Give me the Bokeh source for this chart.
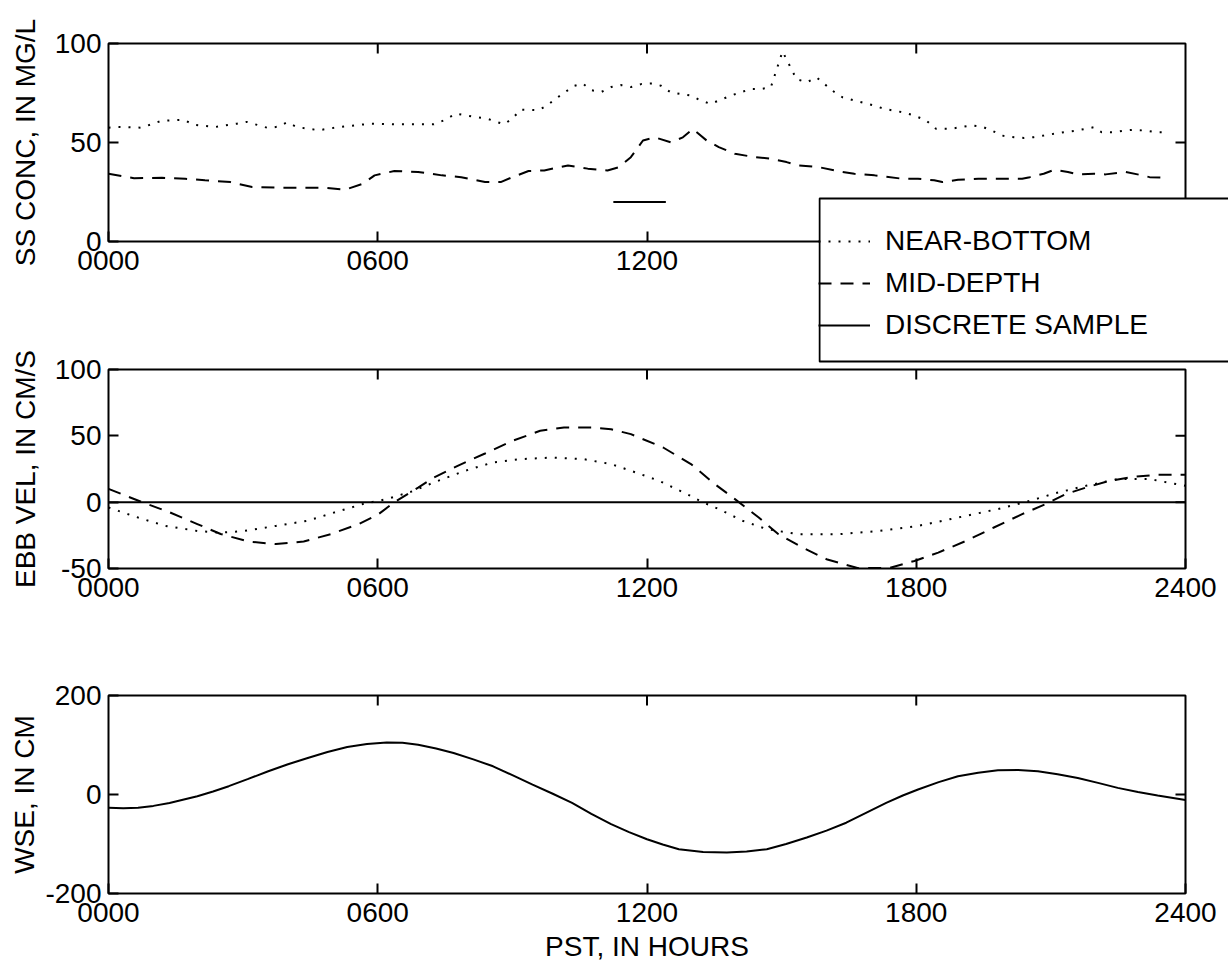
import math
from bokeh.plotting import figure
from bokeh.models import Range1d, FixedTicker, Legend, LegendItem, Span, BoxAnnotation
from bokeh.layouts import column, row
from bokeh.embed import file_html
from bokeh.resources import INLINE

FONT = "Liberation Sans"
FS = "28px"

# ---------------- data ----------------
hours_range = (0, 24)
x_ticks = [0, 6, 12, 18, 24]
x_tick_labels = ["0000", "0600", "1200", "1800", "2400"]
# in the top panel the 1800 / 2400 labels are hidden under the legend box
top_x_ticks = [0, 6, 12]
top_x_tick_labels = ["0000", "0600", "1200"]

ss_range = (0, 100)
ss_ticks = [0, 50, 100]
ss_tick_labels = ["0", "50", "100"]
vel_range = (-50, 100)
vel_ticks = [-50, 0, 50, 100]
vel_tick_labels = ["-50", "0", "50", "100"]
wse_range = (-200, 200)
wse_ticks = [-200, 0, 200]
wse_tick_labels = ["-200", "0", "200"]

legend_labels = ["NEAR-BOTTOM", "MID-DEPTH", "DISCRETE SAMPLE"]

# Panel 1: suspended-sediment concentration (mg/L)
ss_nb_hours = [0.0, 0.22, 0.73, 1.19, 1.67, 1.9, 2.37, 2.86, 3.08, 3.56, 3.78, 3.98, 4.2, 4.68,
               5.14, 5.84, 6.37, 7.25, 7.51, 7.73, 8.17, 8.44, 8.81, 9.0, 9.18, 9.58, 9.78, 9.97,
               10.15, 10.37, 10.57, 10.76, 10.98, 11.2, 11.42, 11.64, 11.87, 12.09, 12.31, 12.53,
               12.76, 12.98, 13.2, 13.42, 13.6, 13.87, 14.09, 14.31, 14.53, 14.76, 15.02, 15.33,
               15.56, 15.78, 16.13, 16.36, 16.62, 17.07, 17.29, 17.69, 17.96, 18.22, 18.44, 18.76,
               18.98, 19.24, 19.47, 19.69, 19.91, 20.18, 20.4, 20.62, 20.84, 21.07, 21.29, 21.56,
               21.78, 21.96, 22.13, 22.4, 22.62, 22.84, 23.11, 23.33, 23.6]
ss_nb_values = [57.5, 57.8, 57.5, 61, 61.5, 59, 57.8, 59.5, 60.4, 57.3, 58, 60.2, 57.8, 56.2,
                57.8, 59.5, 59.2, 59.2, 61.5, 64.6, 62.9, 62, 59.2, 62, 66.6, 66.3, 68.8, 72.2,
                75, 78.6, 79.8, 76.4, 75.5, 78, 79, 78, 79.5, 79.8, 78.7, 75.3,
                74.5, 73.7, 71.2, 69.5, 71.2, 73.7, 75.3, 77, 77, 77.9, 96, 82,
                80.4, 82.9, 76.2, 72.8, 71.2, 68.6, 67, 65.3, 63.6, 61.1, 56.9, 56.9,
                57.7, 58.6, 58, 56, 53.5, 52.7, 52.3, 52.7, 53.5, 54.4, 55.2, 56,
                56.9, 57.7, 55.2, 55.2, 56, 56.4, 56, 55.2, 55.2]

ss_md_hours = [0, 0.57, 1.19, 1.71, 2.15, 2.72, 3.2, 3.73, 4.26, 4.79, 5.27, 5.67, 5.93, 6.37,
               6.9, 7.43, 7.86, 8.39, 8.74, 9.0, 9.36, 9.71, 10.24, 10.68, 11.12, 11.38, 11.64,
               11.91, 12.18, 12.53, 12.8, 13.02, 13.33, 13.6, 13.96, 14.4, 14.76, 15.11, 15.38,
               15.82, 16.36, 16.62, 17.07, 17.69, 18.04, 18.4, 18.58, 18.93, 19.38, 19.82, 20.36,
               20.53, 20.84, 21.07, 21.38, 21.6, 21.96, 22.22, 22.67, 22.93, 23.2, 23.6]
ss_md_values = [34.2, 32, 32.2, 31.7, 30.9, 30, 27.5, 27.2, 27.2, 27.2, 26.1, 29.2, 33.4, 35.6,
                35.1, 33.4, 32.5, 30, 30, 32.5, 35.6, 35.9, 38.4, 36.8, 35.9, 37.6, 42.6,
                51, 52.6, 50.1, 52.6, 56.8, 51, 47.7, 44.3, 42.6, 41.8, 40.1, 38.4,
                37.6, 35.1, 34.2, 33.4, 31.7, 31.7, 30.9, 30, 31.2, 31.7, 31.7, 31.7,
                32.5, 34.2, 36.2, 35.1, 33.9, 34.2, 33.9, 35.1, 33.9, 32.5, 32.2]

discrete_hours = [11.25, 12.42]
discrete_values = [20, 20]

# Panel 2: ebb velocity (cm/s)
vel_md_hours = [0, 0.75, 1.36, 1.98, 2.5, 3.12, 3.73, 4.35, 4.96, 5.58, 6.02, 6.37, 6.9, 7.25,
                7.78, 8.39, 9.0, 9.62, 10.15, 10.76, 11.2, 11.64, 12.36, 12.98, 13.51, 13.96,
                14.49, 14.93, 15.47, 16.0, 16.71, 17.42, 17.96, 18.49, 19.11, 19.73, 20.36,
                20.89, 21.33, 21.78, 22.31, 22.84, 23.38, 24.0]
vel_md_values = [10, 0, -7.6, -16.5, -24, -29.7, -31.6, -29.7, -24, -16.5, -9, 0, 11, 18.6,
                 27.4, 36.7, 46.2, 53.8, 56.3, 56.3, 55, 51.3, 41.2, 28.7, 13.6, 2.3,
                 -11.6, -24.2, -34.3, -43, -49.8, -49.5, -44.3, -38, -29.2, -19.1, -9,
                 -1.4, 6.1, 11, 16.1, 19.1, 20.6, 20.6]

vel_nb_hours = [0, 0.22, 0.66, 1.27, 1.98, 2.5, 3.03, 3.73, 4.44, 5.05, 5.67, 6.2, 6.81, 7.25,
                7.95, 8.57, 9.18, 9.88, 10.59, 11.2, 11.64, 12.27, 12.89, 13.24, 13.6, 14.13,
                14.67, 15.38, 16.27, 17.16, 18.04, 18.93, 19.82, 20.53, 21.16, 21.78, 22.49,
                23.2, 24.0]
vel_nb_values = [-4, -6.6, -11.6, -17.9, -21.7, -23, -21.7, -17.9, -14, -7.6, -1.4, 2.3, 8.6, 14.9,
                 23.7, 30, 32.4, 33.6, 32.4, 28.7, 23.7, 16.1, 6.1, 0, -5.2, -14,
                 -20.3, -24.2, -24.2, -21.7, -17.9, -11.6, -5.2, 1, 7.3, 12.3, 17.4,
                 17.4, 12.3]

# Panel 3: water-surface elevation (cm)
wse_hours = [0, 0.33, 0.66, 1.0, 1.36, 1.68, 1.98, 2.33, 2.68, 3.1, 3.56, 4.0, 4.44, 4.88,
             5.32, 5.76, 6.2, 6.55, 6.9, 7.3, 7.69, 8.13, 8.57, 9.0, 9.45, 9.9, 10.33, 10.76,
             11.2, 11.6, 12.0, 12.35, 12.71, 13.25, 13.78, 14.22, 14.67, 15.1, 15.56, 16.0,
             16.44, 16.88, 17.33, 17.7, 18.04, 18.5, 18.93, 19.38, 19.82, 20.27, 20.71, 21.15,
             21.6, 22.05, 22.49, 22.94, 23.38, 24.0]
wse_values = [-27, -28, -27, -23, -17, -10, -3.4, 6, 16.8, 31, 47, 61, 73.7, 86,
              96, 102, 105, 104.5, 100.5, 93, 83.8, 71, 57, 39, 20, 1.5, -16.8, -39,
              -60, -76, -90.5, -101, -110.6, -116, -117.3, -115, -110.6, -100, -87, -73,
              -57, -37, -16.8, -2, 10, 25, 36.8, 44, 48.8, 49.5, 47, 41,
              33.5, 23.5, 13.4, 5, -2, -11]

# ---------------- styling helpers ----------------
W = 1228
FRAME_L = 108          # left edge of every plot frame (px)
FRAME_R = 1185         # right edge of every plot frame (px)
DOT = "2 8"
DASH = "13 9"
LW = 2


def style_axis(ax, ticks, labels):
    ax.ticker = FixedTicker(ticks=ticks)
    ax.major_label_overrides = {t: l for t, l in zip(ticks, labels)}
    ax.axis_line_color = None
    ax.major_tick_in = 10
    ax.major_tick_out = 0
    ax.minor_tick_in = 0
    ax.minor_tick_out = 0
    ax.major_tick_line_color = "black"
    ax.major_tick_line_width = 2
    ax.major_label_text_font = FONT
    ax.major_label_text_font_size = FS
    ax.major_label_text_color = "black"
    ax.major_label_text_line_height = 1.0
    ax.axis_label_text_font = FONT
    ax.axis_label_text_font_size = FS
    ax.axis_label_text_font_style = "normal"
    ax.axis_label_text_color = "black"
    ax.axis_label_text_line_height = 1.0


def make_fig(height, top, bottom, yr, yticks, ylabels, ylabel, ystandoff, inner_right,
             xt=x_ticks, xl=x_tick_labels):
    p = figure(width=W, height=height, x_range=Range1d(*hours_range), y_range=Range1d(*yr),
               output_backend="svg", toolbar_location=None, tools="",
               min_border_left=FRAME_L, min_border_right=W - FRAME_R,
               min_border_top=top, min_border_bottom=bottom)
    p.grid.visible = False
    p.outline_line_color = "black"
    p.outline_line_width = 2
    p.background_fill_color = "white"
    p.border_fill_color = "white"
    xax = p.below[0]
    yax = p.left[0]
    style_axis(xax, xt, xl)
    xax.major_label_standoff = 9
    style_axis(yax, yticks, ylabels)
    yax.major_label_standoff = 7
    yax.axis_label = ylabel
    yax.axis_label_standoff = ystandoff
    # inward ticks on the top and right edges (box style)
    top_t = x_ticks[1:-1]
    p.ray(x=top_t, y=[yr[1]] * len(top_t), length=10, length_units="screen",
          angle=-math.pi / 2, line_color="black", line_width=2)
    p.ray(x=[hours_range[1]] * len(inner_right), y=inner_right, length=10, length_units="screen",
          angle=math.pi, line_color="black", line_width=2)
    return p, xax, yax


# ---------------- panel 1 ----------------
p1, x1, y1 = make_fig(365, 43, 124, ss_range, ss_ticks, ss_tick_labels,
                      "SS CONC, IN MG/L", 11, [50], top_x_ticks, top_x_tick_labels)
p1.line(ss_nb_hours, ss_nb_values, line_color="black", line_width=LW, line_dash=DOT)
p1.line(ss_md_hours, ss_md_values, line_color="black", line_width=LW, line_dash=DASH)
p1.line(discrete_hours, discrete_values, line_color="black", line_width=LW)

# ---------------- legend (transparent strip overlapping the bottom of panel 1) ----------------
LEG_X = 818
LEG_H = 167
lf = figure(width=W, height=LEG_H, x_range=Range1d(LEG_X, W), y_range=Range1d(0, LEG_H),
            output_backend="svg", toolbar_location=None, tools="", title=None,
            min_border_left=LEG_X, min_border_right=0,
            min_border_top=0, min_border_bottom=0,
            x_axis_type=None, y_axis_type=None)
lf.grid.visible = False
lf.outline_line_color = None
lf.background_fill_alpha = 0.0
lf.border_fill_alpha = 0.0
lf.add_layout(BoxAnnotation(left=LEG_X + 1, right=W + 100, bottom=2, top=LEG_H - 2,
                            fill_color="white", fill_alpha=1.0,
                            line_color="black", line_alpha=1.0, line_width=2))
lf.extra_y_ranges = {"proxy": Range1d(-1000, -900)}
g_nb = lf.line(ss_nb_hours, ss_nb_values, y_range_name="proxy",
               line_color="black", line_width=LW, line_dash=DOT)
g_md = lf.line(ss_md_hours, ss_md_values, y_range_name="proxy",
               line_color="black", line_width=LW, line_dash=DASH)
g_ds = lf.line(discrete_hours, discrete_values, y_range_name="proxy",
               line_color="black", line_width=LW)
legend = Legend(
    items=[LegendItem(label=legend_labels[0], renderers=[g_nb]),
           LegendItem(label=legend_labels[1], renderers=[g_md]),
           LegendItem(label=legend_labels[2], renderers=[g_ds])],
    location=(0, 18), orientation="vertical",
    padding=8, spacing=2, margin=0,
    glyph_width=52, glyph_height=40, label_height=40, label_standoff=15,
    label_text_font=FONT, label_text_font_size=FS, label_text_color="black",
    border_line_color=None, background_fill_alpha=0.0,
)
lf.add_layout(legend)
# wrapped in its own row so that its frame is not aligned with the panels' frames
legend_strip = row(lf, margin=(-169, 0, 0, 0))

# ---------------- panel 2 ----------------
p2, x2, y2 = make_fig(317, 26, 92, vel_range, vel_ticks, vel_tick_labels,
                      "EBB VEL, IN CM/S", 11, [0, 50])
p2.border_fill_alpha = 0.0
p2.margin = (-20, 0, 0, 0)
p2.line(vel_nb_hours, vel_nb_values, line_color="black", line_width=LW, line_dash=DOT)
p2.line(vel_md_hours, vel_md_values, line_color="black", line_width=LW, line_dash=DASH)
p2.add_layout(Span(location=0, dimension="width", line_color="black", line_width=2))

# ---------------- panel 3 ----------------
p3, x3, y3 = make_fig(304, 35, 71, wse_range, wse_ticks, wse_tick_labels,
                      "WSE, IN CM", 2, [0])
p3.line(wse_hours, wse_values, line_color="black", line_width=LW)
x3.axis_label = "PST, IN HOURS"
x3.axis_label_standoff = 6

layout = column(p1, legend_strip, p2, p3, spacing=0)

open("out.html", "w").write(file_html(layout, INLINE))
